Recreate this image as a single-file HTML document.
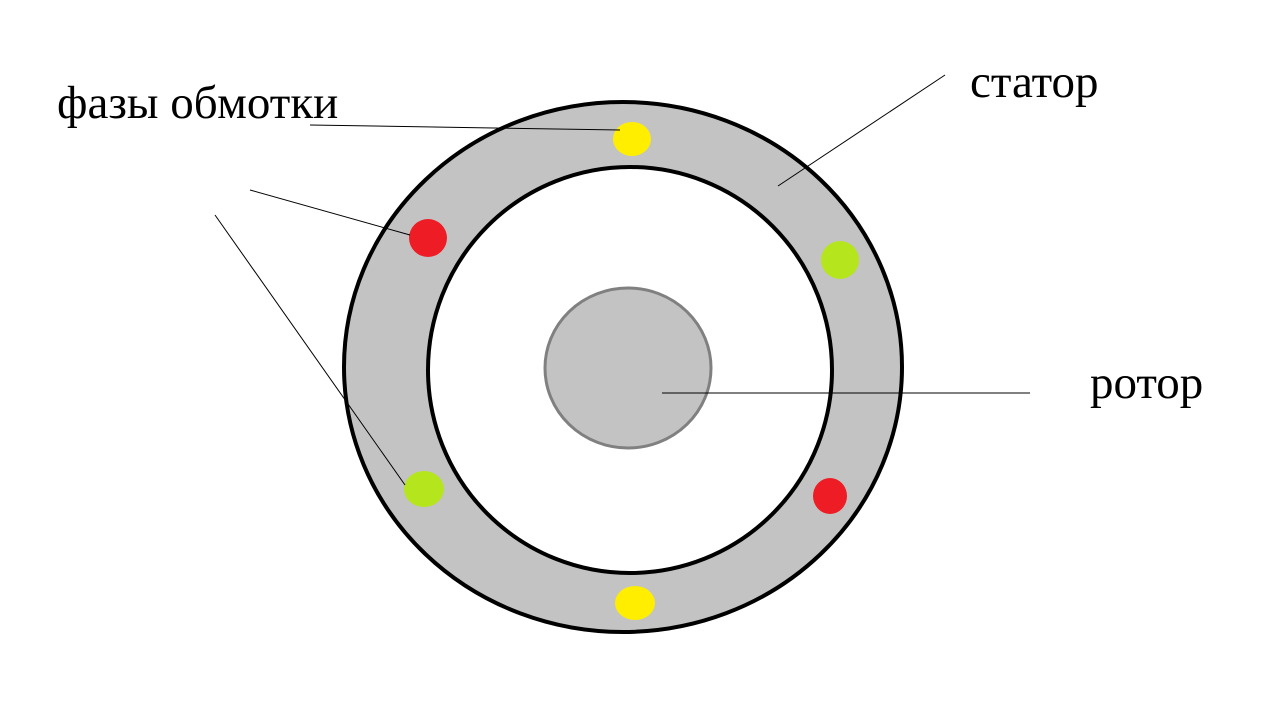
<!DOCTYPE html>
<html><head><meta charset="utf-8"><style>
html,body{margin:0;padding:0;background:#fff;width:1280px;height:720px;overflow:hidden}
</style></head><body>
<svg width="1280" height="720" viewBox="0 0 1280 720" xmlns="http://www.w3.org/2000/svg">
<ellipse cx="623" cy="367" rx="279" ry="265" fill="#c3c3c3" stroke="#000" stroke-width="4"/>
<ellipse cx="630" cy="370" rx="202" ry="203" fill="#fff" stroke="#000" stroke-width="4"/>
<ellipse cx="628" cy="368" rx="83" ry="80" fill="#c3c3c3" stroke="#808080" stroke-width="3"/>
<ellipse cx="632" cy="139" rx="19" ry="17" fill="#ffee00"/>
<ellipse cx="428" cy="238" rx="19" ry="19" fill="#ee1c24"/>
<ellipse cx="840" cy="260" rx="19" ry="19" fill="#b5e61d"/>
<ellipse cx="424" cy="489" rx="20" ry="18" fill="#b5e61d"/>
<ellipse cx="830" cy="496" rx="17" ry="18" fill="#ee1c24"/>
<ellipse cx="635" cy="603" rx="20" ry="17" fill="#ffee00"/>
<g stroke="#000" stroke-width="1">
<line x1="310" y1="125" x2="620" y2="130"/>
<line x1="250" y1="190" x2="410" y2="235"/>
<line x1="215" y1="215" x2="405" y2="485"/>
<line x1="945" y1="75" x2="778" y2="186"/>
<line x1="662" y1="393" x2="1030" y2="393"/>
</g>
<g font-family="Liberation Serif, serif" font-size="47" fill="#000">
<text x="57" y="118">фазы обмотки</text>
<text x="970" y="97">статор</text>
<text x="1090" y="398">ротор</text>
</g>
</svg>
</body></html>
